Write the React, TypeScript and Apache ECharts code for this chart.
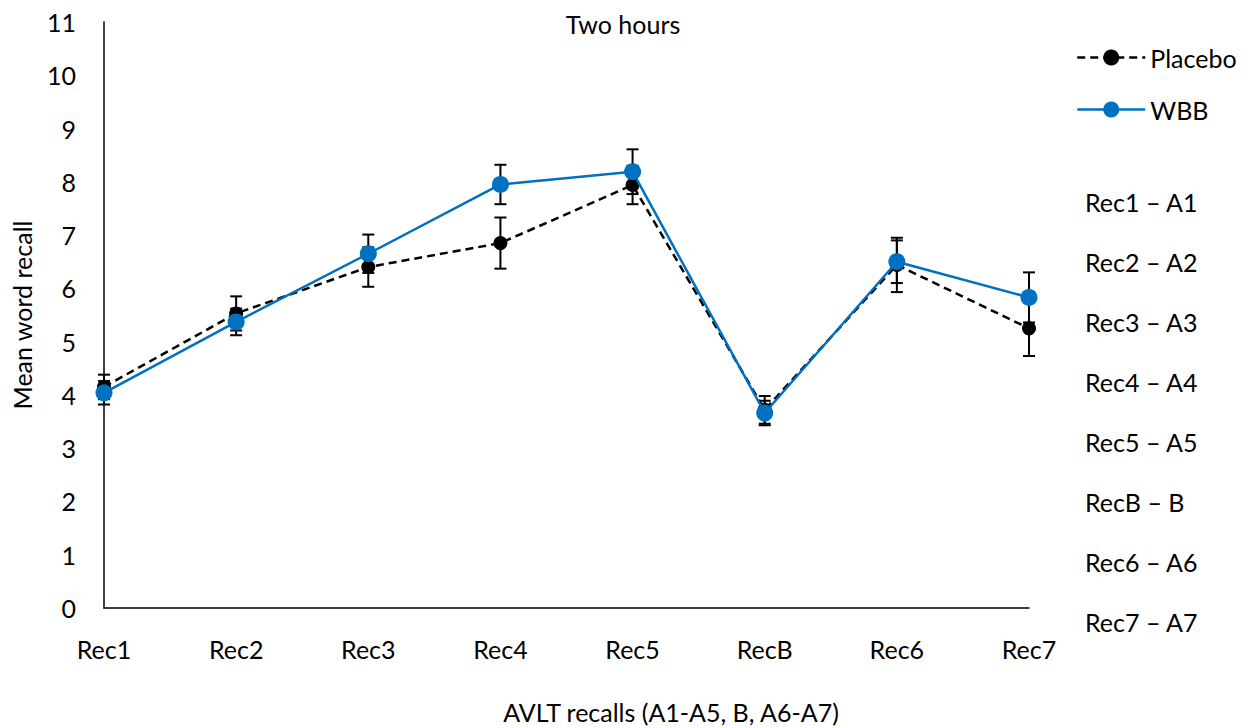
import React, { useEffect, useRef } from "react";
import * as echarts from "echarts";

const categories = ["Rec1", "Rec2", "Rec3", "Rec4", "Rec5", "RecB", "Rec6", "Rec7"];
const placeboMean = [4.15, 5.53, 6.4, 6.85, 7.94, 3.72, 6.44, 5.25];
const placeboErr = [0.23, 0.32, 0.37, 0.48, 0.36, 0.26, 0.51, 0.52];
const wbbMean = [4.04, 5.37, 6.65, 7.95, 8.19, 3.66, 6.5, 5.83];
const wbbErr = [0.22, 0.25, 0.36, 0.37, 0.42, 0.23, 0.4, 0.47];
const keyLabels = [
  "Rec1 – A1",
  "Rec2 – A2",
  "Rec3 – A3",
  "Rec4 – A4",
  "Rec5 – A5",
  "RecB – B",
  "Rec6 – A6",
  "Rec7 – A7",
];
const titleText = "Two hours";
const xTitle = "AVLT recalls (A1-A5, B, A6-A7)";
const yTitle = "Mean word recall";

const FONT = "Lato";
const FS = 25;
const BLUE = "#0070C0";

function errorSeries(name: string, mean: number[], err: number[]) {
  return {
    type: "custom",
    name,
    z: 1,
    silent: true,
    data: mean.map((m, i) => [i, m - err[i], m + err[i]]),
    encode: { x: 0, y: [1, 2] },
    renderItem: (params: any, api: any) => {
      const lo = api.coord([api.value(0), api.value(1)]);
      const hi = api.coord([api.value(0), api.value(2)]);
      const w = 6;
      const style = { stroke: "#000", lineWidth: 2 };
      return {
        type: "group",
        children: [
          { type: "line", shape: { x1: hi[0], y1: hi[1], x2: lo[0], y2: lo[1] }, style },
          { type: "line", shape: { x1: hi[0] - w, y1: hi[1], x2: hi[0] + w, y2: hi[1] }, style },
          { type: "line", shape: { x1: lo[0] - w, y1: lo[1], x2: lo[0] + w, y2: lo[1] }, style },
        ],
      };
    },
  };
}

export default function App() {
  const ref = useRef<HTMLDivElement>(null);
  useEffect(() => {
    if (!ref.current) return;
    document.body.style.overflow = "hidden";
    const chart = echarts.init(ref.current, null, { renderer: "svg" });
    const textStyle = { fontFamily: FONT, fontSize: FS, color: "#000" };
    chart.setOption({
      animation: false,
      backgroundColor: "#fff",
      textStyle: { fontFamily: FONT },
      title: {
        text: titleText,
        left: 618,
        top: 6,
        textAlign: "center",
        textStyle: { ...textStyle, fontWeight: "normal" },
      },
      grid: { left: 104, right: 230, top: 22, bottom: 120, containLabel: false },
      legend: [
        {
          data: ["Placebo"],
          orient: "vertical",
          left: 1071,
          top: 40,
          itemWidth: 68,
          itemHeight: 20,
          itemGap: 8,
          lineStyle: { width: 2.5 },
          textStyle: { ...textStyle },
        },
        {
          data: ["WBB"],
          orient: "vertical",
          left: 1071,
          top: 92,
          itemWidth: 68,
          itemHeight: 20,
          itemGap: 8,
          lineStyle: { width: 2.5 },
          textStyle: { ...textStyle },
        },
      ],
      xAxis: {
        type: "category",
        data: categories,
        boundaryGap: false,
        axisLine: { lineStyle: { color: "#000", width: 1.5 } },
        axisTick: { show: false },
        axisLabel: { ...textStyle, margin: 28 },
        splitLine: { show: false },
      },
      yAxis: {
        type: "value",
        min: 0,
        max: 11,
        interval: 1,
        name: yTitle,
        nameLocation: "middle",
        nameGap: 70,
        nameTextStyle: { ...textStyle },
        axisLine: { show: true, lineStyle: { color: "#000", width: 1.5 } },
        axisTick: { show: false },
        axisLabel: { ...textStyle, margin: 28 },
        splitLine: { show: false },
      },
      graphic: [
        {
          type: "text",
          x: 671,
          y: 712,
          style: {
            text: xTitle,
            font: `${FS}px ${FONT}`,
            fill: "#000",
            align: "center",
            verticalAlign: "middle",
          },
        },
        ...keyLabels.map((t, i) => ({
          type: "text",
          x: 1085,
          y: 202 + 60 * i,
          style: {
            text: t,
            font: `${FS}px ${FONT}`,
            fill: "#000",
            align: "left",
            verticalAlign: "middle",
          },
        })),
      ],
      series: [
        errorSeries("Placebo error", placeboMean, placeboErr),
        errorSeries("WBB error", wbbMean, wbbErr),
        {
          type: "line",
          name: "Placebo",
          data: placeboMean,
          z: 2,
          symbol: "circle",
          symbolSize: 14,
          itemStyle: { color: "#000" },
          lineStyle: { color: "#000", width: 2.5, type: [8, 5] },
        },
        {
          type: "line",
          name: "WBB",
          data: wbbMean,
          z: 3,
          symbol: "circle",
          symbolSize: 17,
          itemStyle: { color: BLUE },
          lineStyle: { color: BLUE, width: 2.5 },
        },
      ],
    });
    return () => chart.dispose();
  }, []);
  return (
    <div
      ref={ref}
      style={{ position: "fixed", left: 0, top: 0, width: 1259, height: 728 }}
    />
  );
}
